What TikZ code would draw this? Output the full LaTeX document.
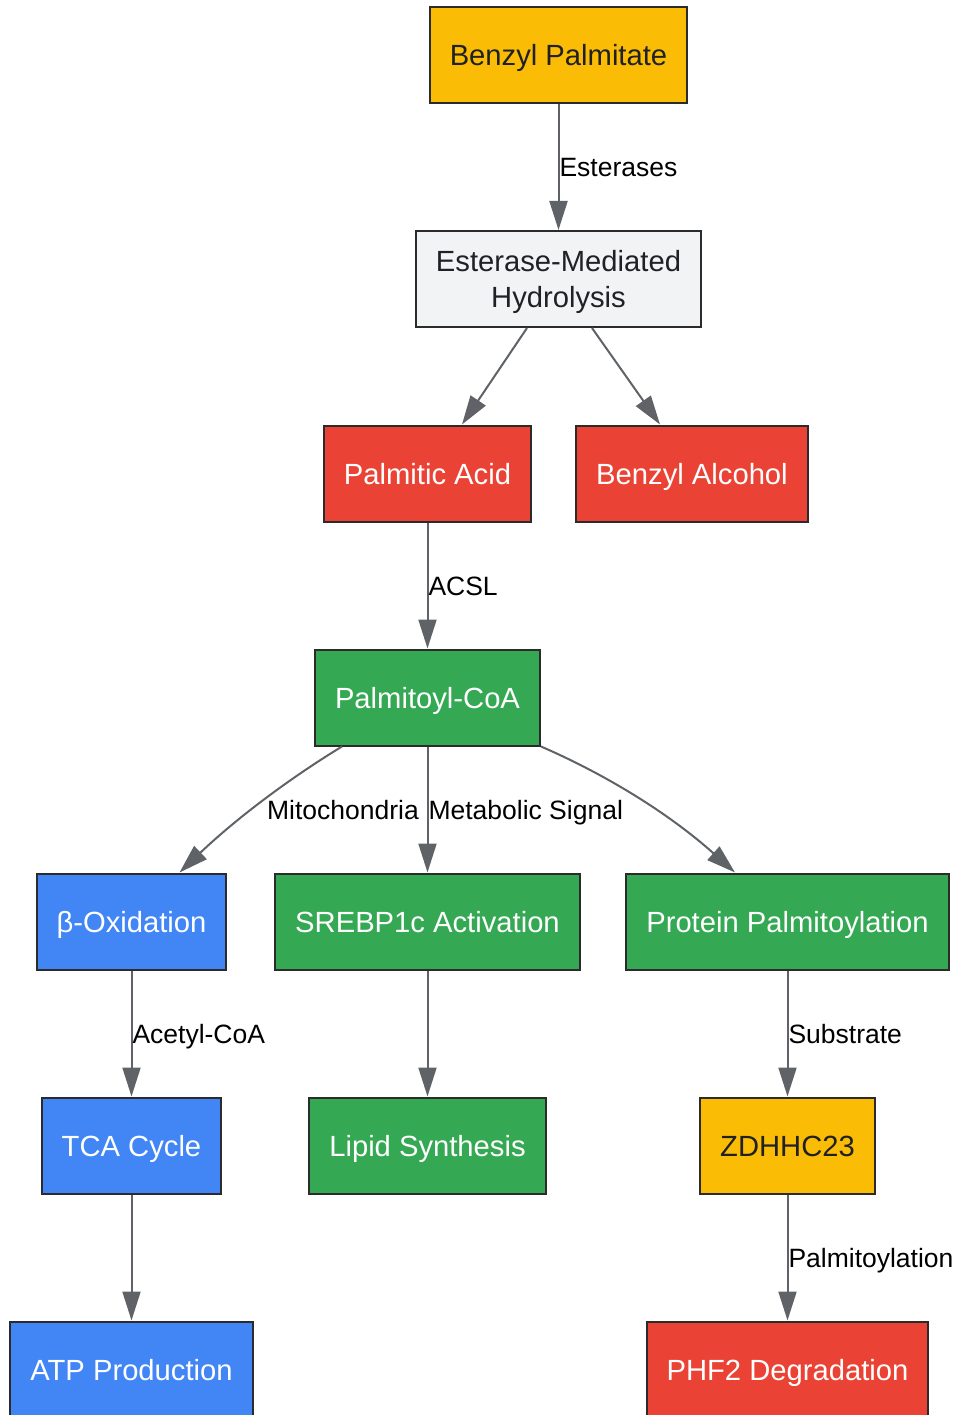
\documentclass[tikz,border=0pt]{standalone}
\usepackage{fontspec}
\setmainfont{Liberation Sans}
\usetikzlibrary{arrows.meta}
\definecolor{gyellow}{HTML}{FBBC05}
\definecolor{ggray}{HTML}{F1F3F4}
\definecolor{gred}{HTML}{EA4335}
\definecolor{ggreen}{HTML}{34A853}
\definecolor{gblue}{HTML}{4285F4}
\definecolor{gline}{HTML}{5F6368}
\definecolor{gtext}{HTML}{202124}
\definecolor{gborder}{HTML}{2B2B2B}

\begin{document}
\begin{tikzpicture}[node distance=224pt,
  box/.style={draw=gborder, line width=2pt, minimum height=96pt, inner xsep=20pt,
    font=\fontsize{29.2}{36}\selectfont, align=center},
  onebox/.style={box, text height=21pt, text depth=0pt},
  yellowbox/.style={onebox, fill=gyellow, text=gtext},
  graybox/.style={box, fill=ggray, text=gtext, text depth=0pt},
  redbox/.style={onebox, fill=gred, text=white},
  greenbox/.style={onebox, fill=ggreen, text=white},
  bluebox/.style={onebox, fill=gblue, text=white},
  lbl/.style={font=\fontsize{26.5}{32}\selectfont, inner sep=0pt, text height=19pt, text depth=0pt,
    anchor=west, text=black},
  arr/.style={-{Triangle[length=29pt,width=18pt]}, draw=gline, line width=2pt}]
\useasboundingbox (0,0) rectangle (954pt,-1415pt);
\node[yellowbox] (bpalm) at (558.5pt,-55pt) {Benzyl Palmitate};
\node[graybox, below of=bpalm] (hydro) {Esterase-Mediated\\Hydrolysis};
\node[redbox, below of=hydro, xshift=-131pt, yshift=29.5pt] (pacid) {Palmitic Acid};
\node[redbox, below of=hydro, xshift=133.5pt, yshift=29.5pt] (balc) {Benzyl Alcohol};
\node[greenbox, below of=pacid] (pcoa) {Palmitoyl-CoA};
\node[bluebox, below of=pcoa, xshift=-296pt] (boxid) {β-Oxidation};
\node[greenbox, below of=pcoa] (srebp) {SREBP1c Activation};
\node[greenbox, below of=pcoa, xshift=360pt] (prot) {Protein Palmitoylation};
\node[bluebox, below of=boxid] (tca) {TCA Cycle};
\node[greenbox, below of=srebp] (lipid) {Lipid Synthesis};
\node[yellowbox, below of=prot] (zdhhc) {ZDHHC23};
\node[bluebox, below of=tca] (atp) {ATP Production};
\node[redbox, below of=zdhhc] (phf) {PHF2 Degradation};
% connectors
\draw[arr] (bpalm) -- node[lbl] (lest) {Esterases} (hydro);
\draw[arr] ([xshift=-31.5pt]hydro.south) -- ([xshift=34.5pt]pacid.north);
\draw[arr] ([xshift=33.5pt]hydro.south) -- ([xshift=-32pt]balc.north);
\draw[arr] (pacid) -- node[lbl] (lacsl) {ACSL} (pcoa);
\draw[arr] ([xshift=28pt]pcoa.south west) .. controls (295pt,-775pt) and (240pt,-815pt) .. ([xshift=48pt]boxid.north);
\node[lbl, anchor=east] (lmito) at (419pt,-810pt) {Mitochondria};
\draw[arr] (pcoa) -- node[lbl] (lsig) {Metabolic Signal} (srebp);
\draw[arr] (pcoa.south east) .. controls (600pt,-772pt) and (665pt,-810pt) .. ([xshift=-52.5pt]prot.north);
\draw[arr] (boxid) -- node[lbl] (lacet) {Acetyl-CoA} (tca);
\draw[arr] (srebp) -- (lipid);
\draw[arr] (prot) -- node[lbl] (lsub) {Substrate} (zdhhc);
\draw[arr] (tca) -- (atp);
\draw[arr] (zdhhc) -- node[lbl] (lpalm) {Palmitoylation} (phf);
\end{tikzpicture}
\end{document}
